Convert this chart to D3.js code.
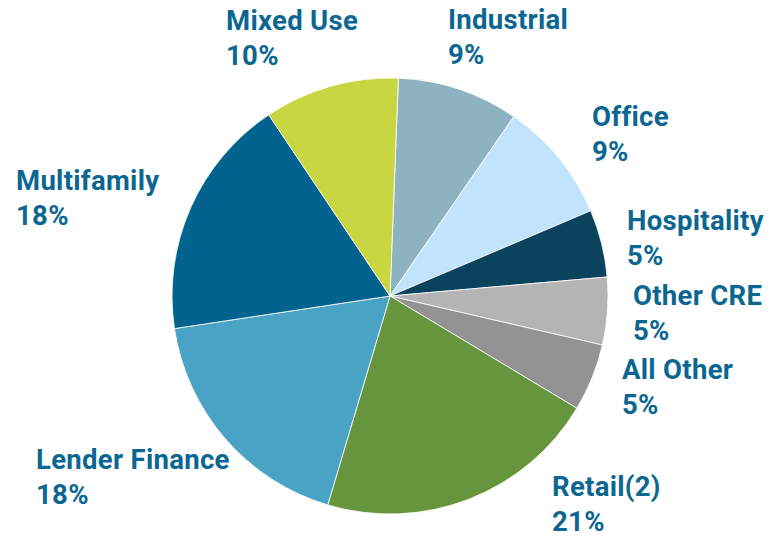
<!DOCTYPE html>
<html>
<head>
<meta charset="utf-8">
<script src="https://cdn.jsdelivr.net/npm/d3@7"></script>
<style>
  body { margin: 0; background: #fff; }
  .lbl { font-family: Roboto, "Open Sans", sans-serif; font-weight: 700; fill: #0b6791; letter-spacing: 0.3px; }
</style>
</head>
<body>
<div id="chart"></div>
<script>
// Données (sens horaire à partir du haut)
const categories = ["Industrial", "Office", "Hospitality", "Other CRE", "All Other", "Retail(2)", "Lender Finance", "Multifamily", "Mixed Use"];
const shares = [9, 9, 5, 5, 5, 21, 18, 18, 10];
const pctLabels = ["9%", "9%", "5%", "5%", "5%", "21%", "18%", "18%", "10%"];
const colors = ["#8db3c1", "#c0e4fb", "#0b435d", "#b4b4b4", "#939393", "#67953e", "#49a3c4", "#02648e", "#c9d641"];

// Position des étiquettes (coin gauche, ligne de base du nom)
const labelPos = {
    "Industrial": [448, 29],
    "Office": [592, 126],
    "Hospitality": [627, 230],
    "Other CRE": [633, 305],
    "All Other": [622, 379],
    "Retail(2)": [552, 496],
    "Lender Finance": [36, 469],
    "Multifamily": [16, 190],
    "Mixed Use": [226, 30]
};

const width = 771, height = 536;
const cx = 390, cy = 296, radius = 218;

const svg = d3.select("#chart").append("svg")
    .attr("width", width)
    .attr("height", height);

const data = categories.map((c, i) => ({ name: c, value: shares[i], pct: pctLabels[i], color: colors[i] }));

const pie = d3.pie()
    .value(d => d.value)
    .sort(null)
    .startAngle(2.2 * Math.PI / 180)
    .endAngle(2 * Math.PI + 2.2 * Math.PI / 180);

const arc = d3.arc().innerRadius(0).outerRadius(radius);

const g = svg.append("g").attr("transform", `translate(${cx},${cy})`);

g.selectAll("path")
    .data(pie(data))
    .enter().append("path")
    .attr("d", arc)
    .attr("fill", d => d.data.color)
    .attr("stroke", "#ffffff")
    .attr("stroke-width", 0.8);

// Étiquettes
const labels = svg.selectAll(".lbl")
    .data(data)
    .enter().append("text")
    .attr("class", "lbl")
    .attr("font-size", 27.5)
    .attr("x", d => labelPos[d.name][0])
    .attr("y", d => labelPos[d.name][1]);

labels.append("tspan")
    .attr("x", d => labelPos[d.name][0])
    .text(d => d.name);

labels.append("tspan")
    .attr("x", d => labelPos[d.name][0])
    .attr("dy", 35)
    .text(d => d.pct);
</script>
</body>
</html>
